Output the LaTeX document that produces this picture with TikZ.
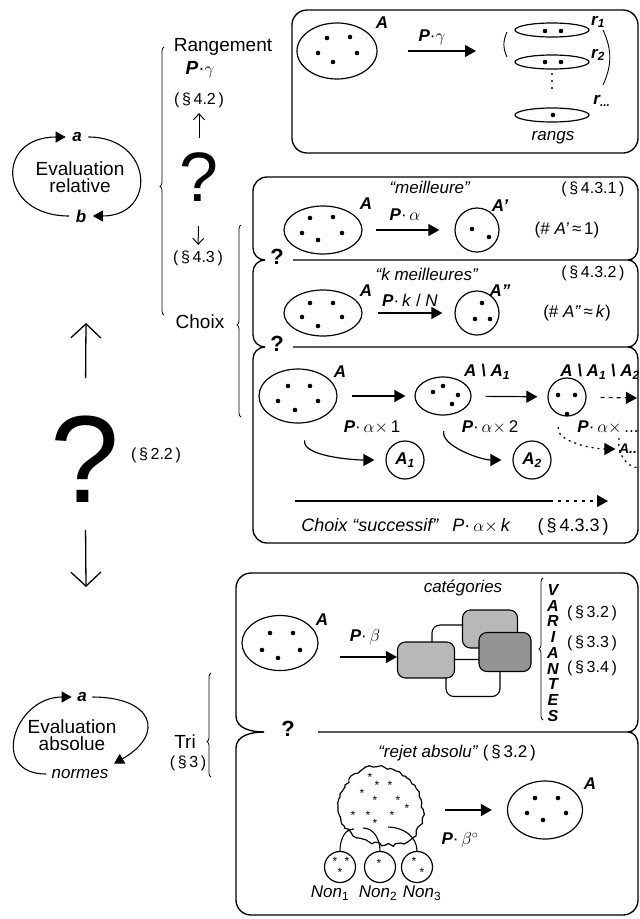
\documentclass[tikz,border=0pt]{standalone}
\usepackage{fontspec}
\setmainfont{Liberation Sans}
\usetikzlibrary{
  arrows.meta, positioning, calc,
  shapes.geometric,
  decorations.pathreplacing, decorations.pathmorphing
}

\begin{document}
\begin{tikzpicture}
      [x=1pt, y=1pt, yscale=-1, line width=1.2pt, inner sep=0pt,
       every node/.style={font=\fontsize{17}{15}\selectfont},
       big/.style={font=\fontsize{19}{17.5}\selectfont},
       it/.style={font=\fontsize{17}{19}\selectfont\bfseries\itshape},
       ref/.style={font=\fontsize{16}{18}\selectfont},
       qmark/.style={font=\fontsize{22}{22}\selectfont\bfseries},
       star/.style={font=\fontsize{12}{12}\selectfont},
       set/.style={ellipse, draw},
       ring/.style={circle, draw},
       frame/.style={line width=1.35pt},
       arr/.style={-{Triangle[length=11pt,width=12pt]}},
       loop/.style={-{Triangle[length=10pt,width=11pt]}, line width=1.1pt},
       barb/.style={-{Straight Barb[length=14pt,width=30pt]}, line width=1.3pt},
       sbarb/.style={-{Straight Barb[length=6pt,width=11pt]}, line width=1pt},
       brc/.style={decorate, decoration={brace, amplitude=4pt}, line width=0.8pt},
       catbox/.style={draw, rounded corners=8pt, line width=1.1pt}]
  \useasboundingbox (0,0) rectangle (640,919);

  % left column: evaluation relative / absolue
  \node[inner sep=6pt, it] (ra) at (77,137) {a};
  \node[inner sep=6pt, it] (rb) at (81,216) {b};
  \node[big, align=center] (rel) at (80,177) {Evaluation\\relative};
  \draw[loop] (rb.west) to[out=180,in=180,looseness=2.3] (ra.west);
  \draw[loop] (ra.east) to[out=0,in=0,looseness=2.1] (rb.east);

  \node[font=\fontsize{124}{124}\selectfont] (q0) at (85,459) {?};
  \node[ref] (s22) at (156,455) {(\,§\,2.2\,)};
  \coordinate (u1) at (86,323);
  \coordinate (d1) at (86,587);
  \draw[barb, shorten <=37pt] (q0) -- (u1);
  \draw[barb, shorten <=27pt] (q0) -- (d1);

  \node[inner sep=5pt, it] (aa) at (82,697) {a};
  \node[big, align=center] (abs) at (72,735) {Evaluation\\absolue};
  \node[inner sep=5pt] (nor) at (80,774) {\textit{normes}};
  \draw[loop] (nor.west) to[out=180,in=180,looseness=1.8] (aa.west);
  \draw[loop] (aa.east) to[out=0,in=-30,looseness=2.2] (nor.north east);

  % middle column
  \node[big] (rang) at (223,47) {Rangement};
  \node[big] (pg) at (200,70) {\textbf{\textit{P}}·$\gamma$};
  \node[ref] (s42) at (199,100) {(\,§\,4.2\,)};
  \node[font=\fontsize{70}{70}\selectfont] (q1) at (199,177) {?};
  \node[ref] (s43) at (198,258) {(\,§\,4.3\,)};
  \node[big] (choix) at (200,322) {Choix};
  \draw[sbarb, shorten <=14pt, shorten >=5pt] (q1) -- (s42);
  \draw[sbarb, shorten <=24pt, shorten >=5pt] (q1) -- (s43);
  \draw[brc, decoration={aspect=0.48}] (164,315) -- (164,47);
  \draw[brc, decoration={aspect=0.48}] (241,417) -- (241,225);

  \node[big] (tri) at (185,742) {Tri};
  \node[ref] (s3) at (188,763) {(\,§\,3\,)};
  \draw[brc, decoration={aspect=0.34}] (211,777) -- (211,673);

  % rangement
  \draw[frame, rounded corners=15pt] (292,10) rectangle (638,153);
  \node[set, minimum width=80pt, minimum height=56pt] (A0) at (337,51) {};
  \foreach \x/\y in {327/38,350/37,318/53,357/53,333/62} \fill (\x,\y) circle (2.3);
  \node[it] (lA0) at (382,23) {A};
  \coordinate (g1) at (476,51);
  \draw[arr, shorten <=30pt] (A0) -- (g1);
  \node (lg) at (432,37) {\textbf{\textit{P}}·$\gamma$};
  \node[set, minimum width=74pt, minimum height=14pt] (r1) at (552,30) {};
  \node[set, minimum width=74pt, minimum height=14pt] (r2) at (552,62) {};
  \node[set, minimum width=74pt, minimum height=14pt] (rk) at (552,115) {};
  \foreach \x/\y in {545/31,561/31,545/62,561/62,553/115} \fill (\x,\y) circle (2.3);
  \foreach \y in {74,81,88} \fill (552,\y) circle (1.2);
  \node[it] (lr1) at (598,22) {r\textsubscript{1}};
  \node[it] (lr2) at (598,55) {r\textsubscript{2}};
  \node[it] (lrk) at (602,101) {r\textsubscript{...}};
  \draw[line width=0.9pt] (507,32) to[out=115,in=245] (507,57);
  \draw[line width=0.9pt] (603,30) to[out=65,in=-65] (603,85);
  \node (lrang) at (553,138) {\textit{rangs}};

  % choix: three boxes
  \draw[frame] (265,260) to[out=180,in=90] (253,248) -- (253,191)
    to[out=-90,in=180] (267,177) -- (624,177) to[out=0,in=-90] (638,191)
    -- (638,248) to[out=90,in=0] (628,260) -- (293,260);
  \draw[frame] (265,260) to[out=180,in=-90] (253,272) -- (253,335)
    to[out=90,in=180] (265,347);
  \draw[frame] (628,260) to[out=0,in=-90] (638,272) -- (638,335)
    to[out=90,in=0] (628,347) -- (293,347);
  \draw[frame] (265,347) to[out=180,in=-90] (253,359) -- (253,529)
    to[out=90,in=180] (267,543) -- (624,543) to[out=0,in=90] (638,529)
    -- (638,359) to[out=-90,in=0] (628,347);
  \node[qmark] (q2) at (277,257) {?};
  \node[qmark] (q3) at (277,344) {?};

  % meilleure
  \node (tbest) at (430,187) {\textit{``meilleure''}};
  \node[ref] (s431) at (593,189) {(\,§\,4.3.1\,)};
  \node[set, minimum width=78pt, minimum height=48pt] (B0) at (323,230) {};
  \foreach \x/\y in {310/218,333/217,302/233,342/233,318/240} \fill (\x,\y) circle (2.3);
  \node[it] (lB0) at (366,204) {A};
  \node[ring, minimum size=44pt] (B1) at (477,230) {};
  \foreach \x/\y in {472/229,489/237} \fill (\x,\y) circle (2.3);
  \node[it] (lB1) at (500,206) {A'};
  \draw[arr, shorten <=13pt, shorten >=15pt] (B0) -- (B1);
  \node (lpa) at (405,215) {\textbf{\textit{P}}·\,$\alpha$};
  \node (nB1) at (567,230) {(\# \textit{A'}\,≈\,1)};

  % k meilleures
  \node (tkbest) at (427,274) {\textit{``k meilleures''}};
  \node[ref] (s432) at (593,273) {(\,§\,4.3.2\,)};
  \node[set, minimum width=78pt, minimum height=46pt] (K0) at (323,313) {};
  \foreach \x/\y in {310/303,333/303,302/317,342/317,318/326} \fill (\x,\y) circle (2.3);
  \node[it] (lK0) at (366,291) {A};
  \node[ring, minimum size=44pt] (K1) at (477,313) {};
  \foreach \x/\y in {482/303,475/319,490/319} \fill (\x,\y) circle (2.3);
  \node[it] (lK1) at (500,291) {A''};
  \draw[arr, shorten <=15pt, shorten >=12pt] (K0) -- (K1);
  \node (lpk) at (410,300) {\textbf{\textit{P}}·\,\textit{k} / \textit{N}};
  \node (nK1) at (577,313) {(\# \textit{A''}\,≈\,\textit{k})};

  % choix successif
  \node[set, minimum width=78pt, minimum height=54pt] (S0) at (298,396) {};
  \foreach \x/\y in {288/386,310/386,278/401,318/401,295/410} \fill (\x,\y) circle (2.3);
  \node[it] (lS0) at (340,372) {A};
  \node[set, minimum width=56pt, minimum height=38pt] (S1) at (443,396) {};
  \foreach \x/\y in {433/392,443/386,458/395,452/404} \fill (\x,\y) circle (2.3);
  \node[it] (lS1) at (487,372) {A \textbackslash\ A\textsubscript{1}};
  \node[ring, minimum size=38pt] (S2) at (567,397) {};
  \foreach \x/\y in {558/395,575/395,567/414} \fill (\x,\y) circle (2.3);
  \node[it] (lS2) at (600,372) {A \textbackslash\ A\textsubscript{1} \textbackslash\ A\textsubscript{2}};
  \coordinate (sx) at (637,398);
  \draw[arr, shorten <=14pt, shorten >=9pt] (S0) -- (S1);
  \draw[arr, shorten <=14pt, shorten >=10pt] (S1) -- (S2);
  \draw[arr, dash pattern=on 4pt off 4pt, shorten <=14pt] (S2) -- (sx);
  \node (lp1) at (372,427) {\textbf{\textit{P}}·\,$\alpha\times$\,1};
  \node (lp2) at (490,427) {\textbf{\textit{P}}·\,$\alpha\times$\,2};
  \node (lp3) at (608,427) {\textbf{\textit{P}}·\,$\alpha\times$\,...};
  \node[ring, minimum size=38pt, it] (T1) at (405,460) {A\textsubscript{1}};
  \node[ring, minimum size=38pt, it] (T2) at (532,460) {A\textsubscript{2}};
  \node[font=\fontsize{14}{14}\selectfont\bfseries\itshape] (Tk) at (628,449) {A..};
  \draw[arr, shorten <=18pt, shorten >=11pt] (S0.-70) to[out=100,in=180] (T1);
  \draw[arr, shorten <=16pt, shorten >=11pt] (S1.-80) to[out=100,in=180] (T2);
  \draw[arr, dash pattern=on 2pt off 4pt, shorten <=12pt, shorten >=3pt]
    (S2.-110) to[out=100,in=180] (Tk);
  \draw[dash pattern=on 2pt off 4pt] (619,438) to[out=100,in=180] (640,468);
  \coordinate (k0) at (295,501);
  \coordinate (k1) at (550,501);
  \coordinate (k2) at (608,501);
  \draw (k0) -- (k1);
  \draw[arr, dash pattern=on 3pt off 5pt] (k1) -- (k2);
  \node[font=\fontsize{18}{18}\selectfont] (tsucc) at (455,527)
    {\textit{Choix ``successif''\enspace\ P}·\,$\alpha\times$\,\textit{k}\enspace\quad(\,§\,4.3.3\,)};

  % tri: two boxes
  \draw[frame] (264,732) to[out=180,in=90] (236,716) -- (236,588)
    to[out=-90,in=180] (251,573) -- (623,573) to[out=0,in=-90] (638,588)
    -- (638,720) to[out=90,in=0] (628,732) -- (318,732);
  \draw[frame] (264,732) to[out=180,in=-90] (236,748) -- (236,900)
    to[out=90,in=180] (251,915) -- (623,915) to[out=0,in=90] (638,900)
    -- (638,744) to[out=-90,in=0] (628,732);
  \node[qmark] (q4) at (288,729) {?};

  % categories
  \node[set, minimum width=76pt, minimum height=55pt] (C0) at (280,643) {};
  \foreach \x/\y in {270/633,293/633,262/650,300/650,278/658} \fill (\x,\y) circle (2.3);
  \node[it] (lC0) at (322,620) {A};
  \node (tcat) at (463,588) {\textit{catégories}};
  \node[catbox, fill=white, minimum width=52pt, minimum height=40pt] (c1) at (458,645) {};
  \node[catbox, fill=black!28, minimum width=55pt, minimum height=38pt] (c2) at (490,629) {};
  \node[catbox, fill=white, minimum width=54pt, minimum height=37pt] (c3) at (473,678) {};
  \node[catbox, fill=black!42, minimum width=52pt, minimum height=39pt] (c4) at (505,652) {};
  \node[catbox, fill=black!28, minimum width=57pt, minimum height=36pt] (c5) at (426,660) {};
  \coordinate (b0) at (340,657);
  \draw[arr] (b0) -- (b0 -| c5.west);
  \node (lpb) at (365,637) {\textbf{\textit{P}}·\,$\beta$};
  \draw[brc, decoration={aspect=0.5}] (543,720) -- (543,578);
  \foreach \l [count=\i from 0] in {V,A,R,I,A,N,T,E,S}
    \node[font=\fontsize{16}{16}\selectfont\bfseries\itshape] (v\i) at (553,590+15.7*\i) {\l};
  \node[ref] (s32) at (592,613) {(\,§\,3.2\,)};
  \node[ref] (s33) at (592,643) {(\,§\,3.3\,)};
  \node[ref] (s34) at (592,668) {(\,§\,3.4\,)};

  % rejet absolu
  \node (trej) at (457,753) {\textit{``rejet absolu''} (\,§\,3.2\,)};
  \pgfmathsetseed{7}
  \draw[decorate, decoration={random steps, segment length=3.5pt, amplitude=1.6pt}]
    plot[smooth cycle] coordinates {(345,785) (366,767) (396,771) (412,784)
      (421,800) (422,820) (410,840) (385,845) (360,838) (342,824) (338,803)};
  \foreach \x/\y in {370/777,377/785,390/785,362/793,375/800,398/800,407/808,
                     353/815,368/815,392/815,375/823}
    \node[star] (st) at (\x,\y) {*};
  \node[ring, minimum size=31pt] (N1) at (340,867) {};
  \node[ring, minimum size=31pt] (N2) at (380,867) {};
  \node[ring, minimum size=31pt] (N3) at (417,867) {};
  \foreach \x/\y in {335/861,347/861,340/872,379/863,414/861,422/872}
    \node[star] (sn) at (\x,\y) {*};
  \coordinate (k1a) at (354,829);
  \coordinate (k2a) at (363,828);
  \coordinate (k3a) at (388,827);
  \draw[line width=1.1pt] (N1.north) to[out=-90,in=180] (k1a);
  \draw[line width=1.1pt] (N2.north) to[out=-90,in=0] (k2a);
  \draw[line width=1.1pt] (N3.north) to[out=-90,in=0] (k3a);
  \node (ln1) at (330,893) {\textit{Non}\textsubscript{1}};
  \node (ln2) at (378,893) {\textit{Non}\textsubscript{2}};
  \node (ln3) at (422,893) {\textit{Non}\textsubscript{3}};
  \node[set, minimum width=75pt, minimum height=58pt] (E0) at (545,810) {};
  \foreach \x/\y in {535/798,558/798,527/813,543/820,566/813} \fill (\x,\y) circle (2.3);
  \node[it] (lE0) at (590,784) {A};
  \coordinate (n0) at (445,810);
  \draw[arr, shorten >=15pt] (n0) -- (E0.west);
  \node (lpb0) at (460,840) {\textbf{\textit{P}}·\,$\beta^{\circ}$};
\end{tikzpicture}
\end{document}
